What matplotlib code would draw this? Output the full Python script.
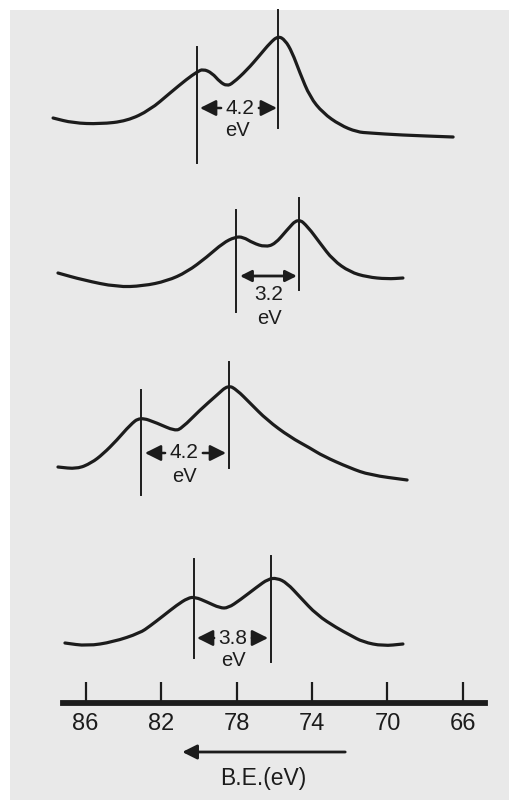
import numpy as np
import matplotlib.pyplot as plt
from matplotlib.patches import Rectangle, PathPatch
from matplotlib.path import Path

plt.rcParams['font.family'] = ['Liberation Sans', 'DejaVu Sans']

INK = '#1c1c1c'
PAPER = '#e9e9e9'

# --- spectra (binding energy in eV, intensity arb.) ---
e1 = [87.73, 86.67, 85.24, 83.81, 82.59, 81.53, 80.63, 80.10, 79.78, 79.30, 78.88,
      78.51, 78.19, 77.45, 76.76, 76.23, 75.80, 75.43, 75.06, 74.64, 74.11, 73.42,
      72.52, 71.62, 70.93, 69.34, 66.52]
i1 = [22, 17, 16, 19, 30, 47, 61, 68, 71, 67, 58, 54, 57, 70, 85, 97, 104, 100,
      88, 67, 43, 27, 15, 8, 7, 5, 3]

e2 = [87.47, 86.14, 84.34, 82.96, 81.69, 80.63, 79.57, 78.72, 78.08, 77.66, 77.13,
      76.49, 75.96, 75.33, 74.74, 74.21, 73.58, 72.89, 71.99, 71.08, 70.02, 69.18]
i2 = [17, 10, 3, 4, 9, 18, 33, 47, 53, 53, 47, 43, 46, 60, 72, 63, 47, 30, 18, 13,
      11, 12]

e3 = [87.47, 86.46, 85.70, 85.08, 84.34, 83.65, 83.12, 82.22, 81.27, 80.89, 79.94,
      79.04, 78.45, 77.98, 77.29, 76.39, 75.17, 74.11, 73.42, 71.99, 70.93, 68.96]
i3 = [18, 16, 22, 31, 45, 60, 68, 62, 54, 57, 75, 90, 100, 95, 82, 65, 48, 37, 29,
      17, 10, 5]

e4 = [87.10, 85.93, 84.55, 83.12, 82.59, 81.90, 81.16, 80.58, 80.20, 79.57, 78.88,
      78.45, 77.82, 76.92, 76.33, 75.86, 75.33, 74.64, 73.74, 72.68, 71.99, 71.30,
      70.24, 69.18]
i4 = [7, 4, 8, 17, 24, 34, 45, 52, 53, 48, 42, 42, 50, 63, 71, 72, 67, 53, 35, 22,
      15, 8, 4, 6]

energies = [e1, e2, e3, e4]
intensities = [i1, i2, i3, i4]
offsets = [660, 510, 315, 150]

# peak marker lines: (energy, bottom, top) for left and right peak
left_lines = [(80.10, -23, 93), (78.03, -22, 80), (83.07, -10, 95), (80.26, -8, 91)]
right_lines = [(75.80, 12, 130), (74.69, 0, 92), (78.40, 17, 123), (76.17, -12, 94)]

splits = ['4.2', '3.2', '4.2', '3.8']
label_e = [77.82, 76.28, 80.79, 78.19]
label_i = [32, -5, 32, 12]
ev_i = [10, -28, 8, -10]
arrow_i = [32, 14, 32, 12]
arrow_from = [79.94, 77.82, 82.86, 80.10]
arrow_to = [75.86, 74.80, 78.56, 76.33]

ticks = [86, 82, 78, 74, 70, 66]


def smooth_path(x, y):
    # quadratic b-spline style path through the read points
    pts = np.column_stack([x, y])
    mids = (pts[:-1] + pts[1:]) / 2
    verts = [pts[0], mids[0]]
    codes = [Path.MOVETO, Path.LINETO]
    for j in range(1, len(pts) - 1):
        verts += [pts[j], mids[j]]
        codes += [Path.CURVE3, Path.CURVE3]
    verts.append(pts[-1])
    codes.append(Path.LINETO)
    return Path(verts, codes)


fig = plt.figure(figsize=(5.1, 8.0), dpi=100)
fig.patch.set_facecolor('white')
fig.patches.append(Rectangle((10 / 510, 0), 500 / 510, 790 / 800,
                             transform=fig.transFigure, facecolor=PAPER,
                             edgecolor='none', zorder=-10))

ax = fig.add_axes([0, 0, 1, 1])
ax.set_xlim(90.544, 63.503)
ax.set_ylim(0, 800)
ax.axis('off')
ax.patch.set_alpha(0)

for k in range(4):
    off = offsets[k]
    ax.add_patch(PathPatch(smooth_path(energies[k], np.array(intensities[k]) + off),
                           facecolor='none', edgecolor=INK, lw=2.3,
                           capstyle='round', joinstyle='round'))
    for (xe, lo, hi) in (left_lines[k], right_lines[k]):
        ax.plot([xe, xe], [lo + off, hi + off], color=INK, lw=1.4)

    ya = arrow_i[k] + off
    if k == 1:
        ax.annotate('', xy=(arrow_to[k], ya), xytext=(arrow_from[k], ya),
                    arrowprops=dict(arrowstyle='<|-|>', color=INK, lw=2.0,
                                    mutation_scale=17, shrinkA=0, shrinkB=0))
    else:
        gap = 1.0
        ax.annotate('', xy=(arrow_from[k], ya), xytext=(label_e[k] + gap, ya),
                    arrowprops=dict(arrowstyle='-|>', color=INK, lw=1.8,
                                    mutation_scale=24, shrinkA=0, shrinkB=0))
        ax.annotate('', xy=(arrow_to[k], ya), xytext=(label_e[k] - gap, ya),
                    arrowprops=dict(arrowstyle='-|>', color=INK, lw=1.8,
                                    mutation_scale=24, shrinkA=0, shrinkB=0))
    ax.text(label_e[k], label_i[k] + off, splits[k], ha='center', va='center',
            fontsize=15, color=INK)
    ax.text(label_e[k] + (0.15 if k == 0 else 0), ev_i[k] + off, 'eV',
            ha='center', va='center', fontsize=14.5, color=INK)

# energy scale bar
bx = fig.add_axes([63 / 510, 97 / 800, 422 / 510, 0.03])
bx.set_xlim(87.2, 64.83)
bx.patch.set_alpha(0)
for s in ('top', 'left', 'right'):
    bx.spines[s].set_visible(False)
bx.spines['bottom'].set_linewidth(4.2)
bx.spines['bottom'].set_color(INK)
bx.set_yticks([])
bx.set_xticks(ticks)
bx.set_xticklabels([str(t) for t in ticks])
bx.tick_params(axis='x', direction='in', length=15, width=1.6, color=INK,
               labelsize=17, labelcolor=INK, pad=7)

ax.annotate('', xy=(80.88, 48), xytext=(72.24, 48),
            arrowprops=dict(arrowstyle='-|>', color=INK, lw=2.0,
                            mutation_scale=22, shrinkA=0, shrinkB=0))
ax.text(76.6, 22, 'B.E.(eV)', ha='center', va='center', fontsize=16.5, color=INK)

fig.savefig('out.png', dpi=100, facecolor=fig.get_facecolor())
